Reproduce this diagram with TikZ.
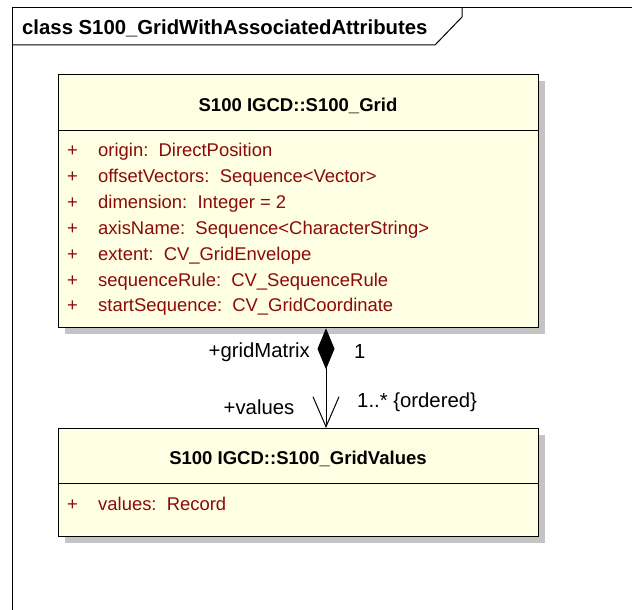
\documentclass[tikz,border=0pt]{standalone}
\usepackage{fontspec}
\setmainfont{Liberation Sans}
\usepackage{tikz}
\usetikzlibrary{arrows.meta,shadows}
\definecolor{classfill}{HTML}{FFFFE3}
\definecolor{attr}{HTML}{8B0A0A}
\definecolor{shade}{HTML}{C4C4C4}
\tikzset{
  frame/.style={draw=black, line width=1pt},
  classbox/.style={draw=black, line width=1.3pt, fill=classfill, anchor=north west,
    drop shadow={shadow xshift=6bp, shadow yshift=-6bp, fill=shade, opacity=1}},
  sep/.style={draw=black, line width=1pt},
  tabtitle/.style={font=\fontsize{20.4}{24}\selectfont\bfseries, inner sep=0pt, anchor=west},
  title/.style={font=\fontsize{18.6}{22}\selectfont\bfseries, inner sep=0pt},
  vis/.style={text=attr, font=\fontsize{18.5}{22}\selectfont, anchor=base west, inner sep=0pt},
  att/.style={text=attr, font=\fontsize{18.5}{22}\selectfont, anchor=base west, inner sep=0pt},
  role/.style={font=\fontsize{20.4}{24}\selectfont, inner sep=0pt},
  assoc/.style={draw=black, line width=1pt,
    {Diamond[length=41bp,width=17bp,fill=black]}-{Straight Barb[length=30bp,width=26bp,line width=1pt]}},
}

\begin{document}
\begin{tikzpicture}[x=1bp,y=-1bp]
  \useasboundingbox[fill=white] (0,0) rectangle (632,610);
  % diagram frame
  \draw[frame] (12,610) -- (12,8) -- (632,8);
  \draw[frame] (12,45) -- (435,45) -- (462,17) -- (462,8);
  \node[tabtitle] (diag) at (22,28) {class S100\_GridWithAssociatedAttributes};

  \node[classbox, minimum width=480bp, minimum height=253bp] (grid) at (58,74) {};
  \draw[sep] (grid.west |- 0,130) -- (grid.east |- 0,130);
  \node[title] (gridname) at (298,106) {S100 IGCD::S100\_Grid};
  \foreach \txt [count=\i] in {origin:\ \ DirectPosition,
      offsetVectors:\ \ Sequence<Vector>,
      dimension:\ \ Integer = 2,
      axisName:\ \ Sequence<CharacterString>,
      extent:\ \ CV\_GridEnvelope,
      sequenceRule:\ \ CV\_SequenceRule,
      startSequence:\ \ CV\_GridCoordinate}{
    \node[vis] (gv\i) at (67,{157+25.8*(\i-1)}) {+};
    \node[att] (ga\i) at (98,{157+25.8*(\i-1)}) {\txt};
  }

  \node[classbox, minimum width=480bp, minimum height=108bp] (gridvalues) at (58,428) {};
  \draw[sep] (gridvalues.west |- 0,483) -- (gridvalues.east |- 0,483);
  \node[title] (valuesname) at (298,459) {S100 IGCD::S100\_GridValues};
  \node[vis] (vv1) at (67,510) {+};
  \node[att] (va1) at (98,510) {values:\ \ Record};

  % association
  \coordinate (line) at (326,0);
  \draw[assoc] (grid.south -| line) -- (gridvalues.north -| line);
  \node[role, anchor=east] (gridmatrix) at (310,352) {+gridMatrix};
  \node[role, anchor=west] (srcmult) at (354,352) {1};
  \node[role] (valuesrole) at (259,407) {+values};
  \node[role, anchor=west] (dstmult) at (357,402) {1..* \{ordered\}};
\end{tikzpicture}
\end{document}
